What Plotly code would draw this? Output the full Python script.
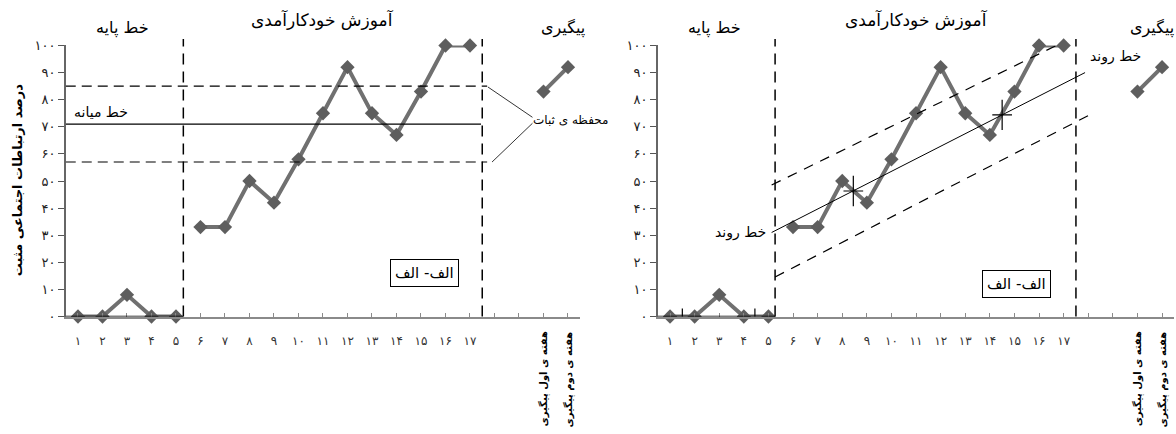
import plotly.graph_objects as go

# ---------------- data ----------------
base_weeks = [1, 2, 3, 4, 5]
base_vals = [0, 0, 8, 0, 0]
int_weeks = [6, 7, 8, 9, 10, 11, 12, 13, 14, 15, 16, 17]
int_vals = [33, 33, 50, 42, 58, 75, 92, 75, 67, 83, 100, 100]
follow_pos = [20, 21]
follow_vals = [83, 92]
follow_labels = ["هفته ی اول پیگیری", "هفته ی دوم پیگیری"]

x_tick_vals = list(range(1, 22))
x_tick_labels = ["۱", "۲", "۳", "۴", "۵", "۶", "۷", "۸", "۹", "۱۰", "۱۱", "۱۲",
                 "۱۳", "۱۴", "۱۵", "۱۶", "۱۷", "", "", "", ""]
y_tick_vals = [0, 10, 20, 30, 40, 50, 60, 70, 80, 90, 100]
y_tick_labels = ["۰", "۱۰", "۲۰", "۳۰", "۴۰", "۵۰", "۶۰", "۷۰", "۸۰", "۹۰", "۱۰۰"]

phase_titles = ["خط پایه", "آموزش خودکارآمدی", "پیگیری"]
y_title = "درصد ارتباطات اجتماعی مثبت"

# left chart: stability envelope (mean and bounds)
mean_level = 71
upper_level = 85
lower_level = 57

# right chart: split-middle trend line and envelope (endpoints)
trend_x = [5.13, 17.87]
trend_y = [31, 90]
upper_x = [5.13, 17.6]
upper_y = [48.5, 104]
lower_x = [5.27, 18.14]
lower_y = [14.6, 74.8]
cross_x = [8.45, 14.5]
cross_y = [46.3, 74.4]
base_cross_x = [1.5, 4.45]

FONT = "DejaVu Sans"
GRAY_LINE = "#707070"
GRAY_MARK = "#5e5e5e"

fig = go.Figure()


def series(xs_list, ys_list):
    X, Y = [], []
    for i, (xs, ys) in enumerate(zip(xs_list, ys_list)):
        if i:
            X.append(None)
            Y.append(None)
        X += xs
        Y += ys
    return X, Y


X, Y = series([base_weeks, int_weeks, follow_pos], [base_vals, int_vals, follow_vals])
for xa, ya in [("x", "y"), ("x2", "y2")]:
    fig.add_trace(go.Scatter(
        x=X, y=Y, xaxis=xa, yaxis=ya, mode="lines+markers",
        line=dict(color=GRAY_LINE, width=4),
        marker=dict(symbol="diamond", size=11, color=GRAY_MARK),
        cliponaxis=False, showlegend=False, hoverinfo="skip"))

shapes = []
annotations = []


def line(xref, yref, x0, y0, x1, y1, dash="solid", width=1, color="black"):
    shapes.append(dict(type="line", xref=xref, yref=yref, x0=x0, y0=y0, x1=x1, y1=y1,
                       line=dict(color=color, width=width, dash=dash), layer="above"))


def ann(xref, yref, x, y, text, size=12, xanchor="center", yanchor="middle", angle=0,
        weight="normal", **kw):
    annotations.append(dict(xref=xref, yref=yref, x=x, y=y, text=text, showarrow=False,
                            xanchor=xanchor, yanchor=yanchor, textangle=angle,
                            font=dict(family=FONT, size=size, color="black", weight=weight),
                            **kw))


Y0P = 0.2707
YTOPP = 0.910
PH_DASH = "11px,7px"

for xr, yr, p1, p2, box_x, box_y in [("x", "y", 5.3, 17.5, 15.16, 15.9),
                                     ("x2", "y2", 5.27, 17.5, 15.07, 11.9)]:
    # phase change lines
    line(xr, "paper", p1, Y0P, p1, YTOPP, dash=PH_DASH, width=1.5)
    line(xr, "paper", p2, Y0P, p2, YTOPP, dash=PH_DASH, width=1.5)
    # phase titles
    ann(xr, "paper", 2.8, 0.935, phase_titles[0], size=16)
    ann(xr, "paper", 11, 0.954, phase_titles[1], size=17)
    if xr == "x":
        ann(xr, "paper", 20.8, 0.935, phase_titles[2], size=16)
    else:
        ann("paper", "paper", 1.0, 0.935, phase_titles[2], size=16, xanchor="right")
    # follow-up labels
    for fx, fl in zip(follow_pos, follow_labels):
        ann(xr, "paper", fx, 0.241, fl, size=10, yanchor="top", angle=-90, weight="bold")
    # box label
    ann(xr, yr, box_x, box_y, "الف- الف", size=15, bordercolor="black", borderwidth=1,
        borderpad=4, bgcolor="white")

# ---- left chart extras ----
line("x", "y", 0.5, 0, 5.3, 0, width=1.5)
line("x", "y", 0.5, mean_level, 17.45, mean_level, width=1.2)
line("x", "y", 0.5, upper_level, 17.7, upper_level, dash="10px,6px", width=1.2)
line("x", "y", 0.5, lower_level, 17.7, lower_level, dash="10px,6px", width=1.2)
line("x", "y", 17.73, upper_level - 0.3, 19.55, 73.5, width=0.8)
line("x", "y", 17.9, lower_level, 19.55, 71.3, width=0.8)
ann("x", "y", 0.75, 75.6, "خط میانه", size=14, xanchor="left")
ann("x", "y", 19.5, 72.5, "محفظه ی ثبات", size=12, xanchor="left")
ann("paper", "paper", 0.0145, 0.585, y_title, size=13, angle=-90, weight="bold")

# ---- right chart extras ----
line("x2", "y2", 0.5, 0, 5.27, 0, width=1.5)
for bx in base_cross_x:
    line("x2", "y2", bx, -3, bx, 3, width=1.2)
line("x2", "y2", trend_x[0], trend_y[0], trend_x[1], trend_y[1], width=1)
line("x2", "y2", upper_x[0], upper_y[0], upper_x[1], upper_y[1], dash="10px,8px", width=1.2)
line("x2", "y2", lower_x[0], lower_y[0], lower_x[1], lower_y[1], dash="10px,8px", width=1.2)
for cx, cy in zip(cross_x, cross_y):
    line("x2", "y2", cx, cy - 5.6, cx, cy + 5.6, width=1.2)
    line("x2", "y2", cx - 0.4, cy, cx + 0.4, cy, width=1.2)
ann("x2", "y2", 4.98, 31, "خط روند", size=14, xanchor="right")
ann("x2", "y2", 17.99, 96, "خط روند", size=14, xanchor="left")

xcommon = dict(range=[0.5, 21.5], tickmode="array", tickvals=x_tick_vals,
               ticktext=x_tick_labels, ticks="inside", ticklen=4, tickcolor="#8a8a8a",
               showline=True, linecolor="#8a8a8a", linewidth=1.5, showgrid=False,
               zeroline=False, ticklabelstandoff=12, automargin=False,
               tickfont=dict(family=FONT, size=12, color="#333333"))
ycommon = dict(range=[0, 100], tickmode="array", tickvals=y_tick_vals,
               ticktext=y_tick_labels, ticks="outside", ticklen=6, tickcolor="#555555",
               showline=True, linecolor="#666666", linewidth=1.5, showgrid=False,
               zeroline=False, domain=[0.2707, 0.8952], automargin=False,
               tickfont=dict(family=FONT, size=13, color="#222222"))

fig.update_layout(
    width=1176, height=434, autosize=False,
    margin=dict(l=0, r=0, t=0, b=0, pad=0, autoexpand=False),
    paper_bgcolor="white", plot_bgcolor="white", showlegend=False,
    xaxis=dict(domain=[0.0559, 0.4934], anchor="y", **xcommon),
    yaxis=dict(anchor="x", **ycommon),
    xaxis2=dict(domain=[0.5593, 0.9986], anchor="y2", **xcommon),
    yaxis2=dict(anchor="x2", **ycommon),
    shapes=shapes, annotations=annotations,
)

post = (
    "var h=document.documentElement,b=document.body;"
    "h.style.margin='0';h.style.padding='0';h.style.height='434px';h.style.overflow='hidden';"
    "b.style.margin='0';b.style.padding='0';b.style.height='434px';b.style.overflow='hidden';"
    "var d=document.getElementById('{plot_id}');d.style.display='block';"
    "if(d.parentElement){d.parentElement.style.height='434px';d.parentElement.style.overflow='hidden';}"
)
fig.write_html("out.html", post_script=post, config={"displayModeBar": False})
